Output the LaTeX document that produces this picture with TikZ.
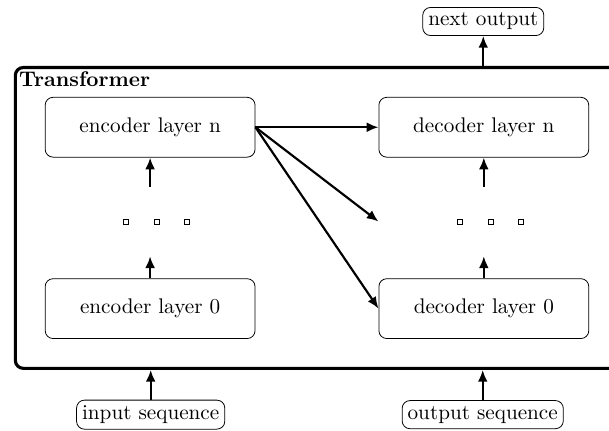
\documentclass[tikz,border=0pt]{standalone}
\usetikzlibrary{fit,calc,arrows.meta}

\tikzset{
	layer/.style={draw, rounded corners, minimum width=107pt, minimum height=30.5pt},
	gap/.style={minimum width=107pt, minimum height=35pt, inner sep=0pt},
	iobox/.style={draw, rounded corners, inner sep=2.8pt},
	dotsq/.style={draw, minimum size=2.6pt, inner sep=0pt},
	arr/.style={line width=1.1pt, -{Latex[length=6pt,width=5pt]}},
}

\begin{document}
\begin{tikzpicture}[font=\fontsize{10.8pt}{13pt}\selectfont]
	\useasboundingbox (0,0) rectangle (10.913,-7.706);

	\node[layer] (encn) at (2.69,-2.28) {encoder layer n};
	\node[layer] (decn) at (8.67,-2.28) {decoder layer n};
	\node[layer] (enc0) at (2.69,-5.53) {encoder layer 0};
	\node[layer] (dec0) at (8.67,-5.53) {decoder layer 0};

	\node[gap] (edots) at (2.69,-3.97) {};
	\node[gap] (ddots) at (8.67,-3.97) {};
	\foreach \dx in {-0.43,0.12,0.66} {
		\node[dotsq] at ($(edots)+(\dx,0)$) {};
		\node[dotsq] at ($(ddots)+(\dx,0)$) {};
	}

	\node[draw, line width=1.6pt, rounded corners, inner sep=15pt, fit=(encn)(dec0)] (trans) {};
	\node[anchor=north west, font=\fontsize{10.8pt}{13pt}\selectfont\bfseries, inner sep=2.5pt] (title) at (trans.north west) {Transformer};

	\node[iobox] (next) at (8.66,-0.385) {next output};
	\node[iobox] (input) at (2.70,-7.43) {input sequence};
	\node[iobox] (output) at (8.65,-7.43) {output sequence};

	% stacks
	\draw[arr] (enc0) -- (edots);
	\draw[arr] (edots) -- (encn);
	\draw[arr] (dec0) -- (ddots);
	\draw[arr] (ddots) -- (decn);

	% encoder to decoder
	\draw[arr] (encn.east) -- (decn.west);
	\draw[arr] (encn.east) -- (ddots.west);
	\draw[arr] (encn.east) -- (dec0.west);

	% in and out
	\draw[arr] (input) -- (input |- trans.south);
	\draw[arr] (output) -- (output |- trans.south);
	\draw[arr] (trans.north -| next) -- (next);
\end{tikzpicture}
\end{document}
